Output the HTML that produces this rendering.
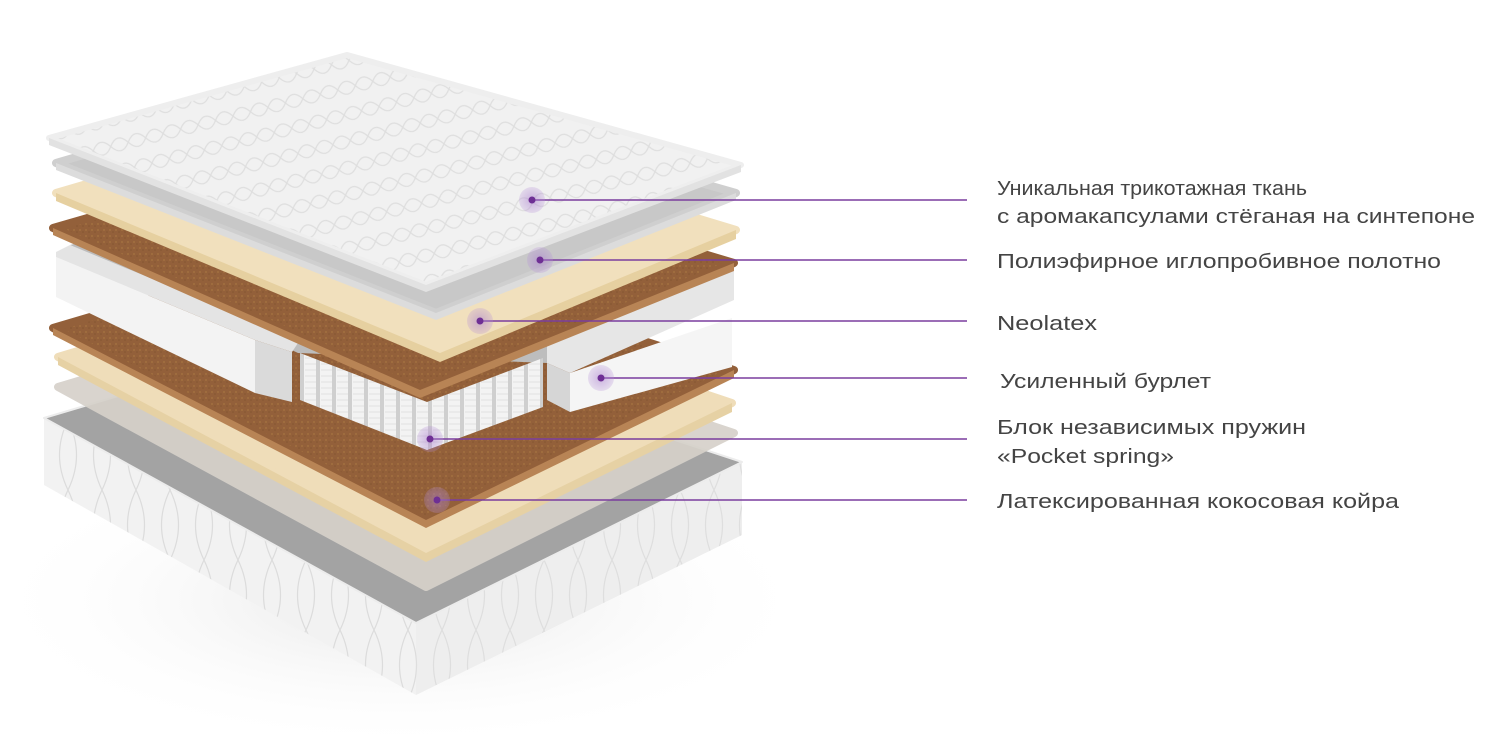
<!DOCTYPE html>
<html><head><meta charset="utf-8"><style>
html,body{margin:0;padding:0;background:#fff;}
svg{display:block}
text{font-family:"Liberation Sans",sans-serif;font-size:20px;fill:#444;}
</style></head><body>
<svg width="1500" height="750" viewBox="0 0 1500 750" xmlns="http://www.w3.org/2000/svg">
<defs>
<pattern id="quilt" width="36" height="26" patternUnits="userSpaceOnUse" patternTransform="rotate(-14)">
<rect width="36" height="26" fill="#f1f1f1"/>
<path d="M0 13 Q9 0 18 13 Q27 26 36 13 M0 13 Q9 26 18 13 Q27 0 36 13" fill="none" stroke="#dedede" stroke-width="1.2"/>
</pattern>
<pattern id="springs" width="16" height="60" patternUnits="userSpaceOnUse">
<rect width="16" height="60" fill="#f3f3f3"/>
<rect x="12" width="4" height="60" fill="#cfcfcf"/>
<path d="M1 4h11M1 10h11M1 16h11M1 22h11M1 28h11M1 34h11M1 40h11M1 46h11M1 52h11M1 58h11" stroke="#e0e0e0" stroke-width="1"/>
</pattern>
<pattern id="coco" width="6" height="6" patternUnits="userSpaceOnUse">
<rect width="6" height="6" fill="#93603a"/>
<circle cx="2" cy="2" r="1" fill="#a2703f"/><circle cx="5" cy="4" r="0.8" fill="#845530"/>
</pattern>
<pattern id="baseq" width="34" height="70" patternUnits="userSpaceOnUse">
<rect width="34" height="70" fill="#f2f2f2"/>
<path d="M0 0 Q17 35 0 70 M34 0 Q17 35 34 70" fill="none" stroke="#dcdcdc" stroke-width="1.2"/>
</pattern>
<radialGradient id="halo"><stop offset="0" stop-color="#a77bcc" stop-opacity="0.55"/><stop offset="1" stop-color="#b48ed6" stop-opacity="0.25"/></radialGradient>
<radialGradient id="shadow" cx="0.5" cy="0.5" r="0.5"><stop offset="0" stop-color="#e6e6e6"/><stop offset="1" stop-color="#ffffff" stop-opacity="0"/></radialGradient>
</defs>

<ellipse cx="400" cy="600" rx="420" ry="150" fill="url(#shadow)"/>

<!-- base mattress -->
<polygon points="44,418 416,623 416,695 44,485" fill="url(#baseq)"/>
<polygon points="416,623 742,462 742,535 416,695" fill="url(#baseq)"/>
<polygon points="416,623 742,462 742,535 416,695" fill="#e4e4e4" opacity="0.3"/>
<polygon points="44,418 340,330 742,462 416,623" fill="#a3a3a3" stroke="#ececec" stroke-width="2" stroke-linejoin="round"/>

<!-- lower grey translucent -->
<polygon points="58,387 340,302 734,433 426,587" fill="#d6d1ca" opacity="0.92" stroke="#d6d1ca" stroke-width="8" stroke-linejoin="round"/>
<!-- lower beige -->
<polygon points="58,357 340,272 732,403 426,553" fill="#efddb9" stroke="#efddb9" stroke-width="8" stroke-linejoin="round"/>
<polygon points="58,357 426,553 732,403 732,412 426,562 58,365" fill="#e6d1a4"/>
<!-- lower coconut -->
<polygon points="53,328 340,243 734,370 426,520" fill="url(#coco)" stroke="#93603a" stroke-width="8" stroke-linejoin="round"/>
<polygon points="53,328 426,520 734,370 734,378 426,528 53,335" fill="#b88455"/>

<!-- spring block -->
<polygon points="70,245 340,170 547,290 547,363 298,353" fill="#bdbdbd"/>
<polygon points="547,330 734,270 734,300 570,373 547,363" fill="#e6e6e6"/>
<polygon points="300,353 427,402 427,450 300,400" fill="url(#springs)"/>
<polygon points="427,402 543,358 543,407 427,450" fill="url(#springs)"/>
<polygon points="56,257 255,340 255,393 56,297" fill="#f3f3f3"/>
<polygon points="255,340 292,352 292,402 255,393" fill="#dadada"/>
<polygon points="56,252 70,245 300,340 292,352 255,340 56,257" fill="#e4e4e4"/>
<polygon points="570,373 732,318 732,367 570,412" fill="#f5f5f5"/>
<polygon points="547,363 570,373 570,412 547,400" fill="#d6d6d6"/>

<!-- upper coconut -->
<polygon points="53,228 340,145 734,263 420,390" fill="url(#coco)" stroke="#93603a" stroke-width="8" stroke-linejoin="round"/>
<polygon points="53,228 420,390 734,263 734,271 420,398 53,235" fill="#b88455"/>
<!-- upper beige -->
<polygon points="56,193 340,110 736,230 440,353" fill="#f1e0bd" stroke="#f1e0bd" stroke-width="8" stroke-linejoin="round"/>
<polygon points="56,193 440,353 736,230 736,239 440,362 56,201" fill="#e6d0a0"/>
<!-- upper grey -->
<polygon points="56,163 340,80 736,193 436,313" fill="#c8c8c8" stroke="#cfcfcf" stroke-width="8" stroke-linejoin="round"/>
<polygon points="56,163 436,313 736,193 736,200 436,320 56,170" fill="#dcdcdc"/>
<!-- quilt -->
<polygon points="49,138 347,55 741,165 426,285" fill="url(#quilt)" stroke="#eeeeee" stroke-width="6" stroke-linejoin="round"/>
<polygon points="49,138 426,285 741,165 741,172 426,292 49,145" fill="#e2e2e2"/>

<!-- markers -->
<g stroke="#7a3d9e" stroke-width="1.6">
<line x1="532" y1="200" x2="967" y2="200"/>
<line x1="540" y1="260" x2="967" y2="260"/>
<line x1="480" y1="321" x2="967" y2="321"/>
<line x1="601" y1="378" x2="967" y2="378"/>
<line x1="430" y1="439" x2="967" y2="439"/>
<line x1="437" y1="500" x2="967" y2="500"/>
</g>
<g fill="url(#halo)">
<circle cx="532" cy="200" r="13"/><circle cx="540" cy="260" r="13"/><circle cx="480" cy="321" r="13"/>
<circle cx="601" cy="378" r="13"/><circle cx="430" cy="439" r="13"/><circle cx="437" cy="500" r="13"/>
</g>
<g fill="#6e2f94">
<circle cx="532" cy="200" r="3.5"/><circle cx="540" cy="260" r="3.5"/><circle cx="480" cy="321" r="3.5"/>
<circle cx="601" cy="378" r="3.5"/><circle cx="430" cy="439" r="3.5"/><circle cx="437" cy="500" r="3.5"/>
</g>

<!-- labels -->
<text x="997" y="195" textLength="310" lengthAdjust="spacingAndGlyphs">Уникальная трикотажная ткань</text>
<text x="997" y="223" textLength="478" lengthAdjust="spacingAndGlyphs">с аромакапсулами стёганая на синтепоне</text>
<text x="997" y="268" textLength="444" lengthAdjust="spacingAndGlyphs">Полиэфирное иглопробивное полотно</text>
<text x="997" y="330" textLength="100" lengthAdjust="spacingAndGlyphs">Neolatex</text>
<text x="1000" y="388" textLength="211" lengthAdjust="spacingAndGlyphs">Усиленный бурлет</text>
<text x="997" y="434" textLength="309" lengthAdjust="spacingAndGlyphs">Блок независимых пружин</text>
<text x="997" y="463" textLength="177" lengthAdjust="spacingAndGlyphs">«Pocket spring»</text>
<text x="997" y="508" textLength="402" lengthAdjust="spacingAndGlyphs">Латексированная кокосовая койра</text>
</svg>
</body></html>
